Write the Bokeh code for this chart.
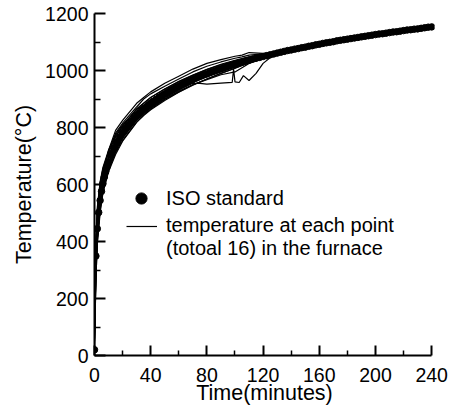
from bokeh.plotting import figure
from bokeh.models import Range1d, Legend, LegendItem, FixedTicker
from bokeh.embed import file_html
from bokeh.resources import INLINE

# ---- ISO standard curve ----
iso_t = [0, 1, 2, 3, 4, 5, 6, 7, 8, 9, 10, 12, 14, 16, 18, 20, 22, 24, 26, 28, 30,
         32, 34, 36, 38, 40, 42, 44, 46, 48, 50, 52, 54, 56, 58, 60, 62, 64, 66, 68, 70,
         72, 74, 76, 78, 80, 82, 84, 86, 88, 90, 92, 94, 96, 98, 100,
         102.5, 105, 107.5, 110, 112.5, 115, 117.5, 120, 122.5, 125, 127.5, 130,
         132.5, 135, 137.5, 140, 142.5, 145, 147.5, 150, 152.5, 155, 157.5, 160,
         162.5, 165, 167.5, 170, 172.5, 175, 177.5, 180, 182.5, 185, 187.5, 190,
         192.5, 195, 197.5, 200, 202.5, 205, 207.5, 210, 212.5, 215, 217.5, 220,
         222.5, 225, 227.5, 230, 232.5, 235, 237.5, 240]
iso_T = [20, 349, 445, 502, 544, 576, 603, 626, 645, 663, 678, 705, 728, 748, 766, 781, 796, 809, 820, 832, 842,
         851, 861, 869, 877, 885, 892, 899, 906, 912, 918, 924, 930, 935, 940, 945, 950, 955, 960, 964, 968,
         973, 977, 981, 985, 988, 992, 996, 999, 1003, 1006, 1009, 1013, 1016, 1019, 1022,
         1026, 1029, 1033, 1036, 1040, 1043, 1046, 1049, 1052, 1055, 1058, 1061,
         1064, 1067, 1070, 1072, 1075, 1077, 1080, 1082, 1085, 1087, 1090, 1092,
         1095, 1097, 1099, 1101, 1104, 1106, 1108, 1110, 1112, 1114, 1116, 1118,
         1120, 1122, 1124, 1126, 1128, 1129, 1131, 1133, 1135, 1136, 1138, 1140,
         1142, 1143, 1145, 1146, 1148, 1150, 1152, 1153]

# ---- furnace thermocouples (16 points) ----
t_line = [0, 1, 2, 4, 6, 10, 15, 20, 30, 35, 40, 50, 60, 70, 80, 90, 100, 105, 110, 120, 130, 160, 200, 240]
s01 = [60, 300, 430, 560, 640, 720, 790, 825, 885, 905, 925, 955, 980, 1005, 1025, 1038, 1050, 1054, 1063, 1060, 1064, 1093, 1127, 1154]
s03 = [150, 380, 480, 580, 630, 700, 765, 805, 865, 885, 905, 935, 962, 984, 1004, 1022, 1036, 1042, 1048, 1056, 1064, 1094, 1127, 1154]
s04 = [100, 330, 430, 530, 590, 665, 725, 770, 832, 855, 875, 910, 938, 962, 983, 1001, 1017, 1025, 1032, 1046, 1059, 1091, 1125, 1152]
s05 = [200, 400, 500, 600, 650, 710, 770, 805, 865, 885, 905, 935, 960, 983, 1003, 1020, 1034, 1041, 1047, 1056, 1065, 1093, 1126, 1153]
s06 = [80, 320, 420, 520, 580, 655, 718, 765, 828, 852, 873, 906, 934, 958, 978, 996, 1013, 1021, 1029, 1044, 1058, 1090, 1125, 1152]
s07 = [250, 420, 520, 610, 660, 720, 775, 810, 862, 878, 898, 925, 952, 975, 995, 1012, 1027, 1034, 1041, 1052, 1063, 1092, 1126, 1153]
s08 = [50, 290, 400, 510, 575, 650, 712, 755, 820, 845, 865, 898, 925, 950, 970, 990, 1008, 1018, 1027, 1043, 1057, 1090, 1124, 1152]
s09 = [120, 360, 460, 560, 615, 690, 750, 790, 850, 872, 892, 922, 948, 970, 990, 1008, 1024, 1031, 1038, 1050, 1062, 1092, 1126, 1153]
s10 = [180, 370, 470, 570, 625, 695, 755, 798, 856, 876, 896, 926, 951, 973, 993, 1010, 1025, 1032, 1039, 1051, 1062, 1092, 1126, 1153]
s11 = [90, 340, 440, 540, 600, 675, 735, 778, 840, 862, 882, 915, 942, 965, 985, 1003, 1019, 1027, 1034, 1047, 1060, 1091, 1125, 1153]
s12 = [60, 310, 415, 525, 588, 660, 722, 768, 830, 854, 874, 908, 936, 960, 981, 999, 1015, 1023, 1031, 1045, 1059, 1091, 1125, 1152]
s13 = [70, 300, 410, 515, 580, 655, 718, 762, 826, 850, 868, 900, 928, 950, 968, 985, 995, 1010, 1025, 1042, 1057, 1090, 1124, 1152]
s14 = [220, 410, 510, 605, 655, 715, 780, 815, 872, 900, 918, 945, 970, 995, 1015, 1030, 1043, 1048, 1054, 1058, 1066, 1094, 1127, 1154]
s15 = [140, 350, 455, 555, 610, 685, 745, 787, 846, 868, 888, 920, 947, 970, 990, 1008, 1023, 1030, 1037, 1050, 1061, 1092, 1126, 1153]
s16 = [30, 270, 390, 500, 570, 645, 705, 752, 818, 842, 862, 895, 924, 948, 970, 990, 1008, 1018, 1027, 1042, 1056, 1090, 1124, 1152]
# the thermocouple that dips between 75 and 125 minutes
dip_t = [0, 1, 2, 4, 6, 10, 15, 20, 30, 40, 50, 60, 70, 75, 80, 90, 98, 99, 100, 103, 106, 110, 115, 120, 125, 130, 160, 200, 240]
dip_T = [30, 260, 410, 530, 595, 665, 725, 765, 828, 870, 903, 932, 955, 955, 952, 956, 958, 1005, 960, 958, 982, 965, 990, 1025, 1045, 1060, 1092, 1125, 1152]

furnace_series = [s01, s03, s04, s05, s06, s07, s08, s09, s10, s11, s12, s13, s14, s15, s16]

x_ticks = [0, 40, 80, 120, 160, 200, 240]
x_minor = [20, 60, 100, 140, 180, 220]
y_ticks = [0, 200, 400, 600, 800, 1000, 1200]
y_minor = [100, 300, 500, 700, 900, 1100]

x_title = "Time(minutes)"
y_title = "Temperature(\u00b0C)"
legend_labels = ["ISO standard", "temperature at each point", "(totoal 16) in the furnace"]

FONT = "Liberation Sans"

p = figure(width=457, height=410, output_backend="svg", toolbar_location=None,
           x_range=Range1d(0, 242), y_range=Range1d(0, 1200),
           min_border_left=94, min_border_right=23, min_border_top=13, min_border_bottom=55)
p.xgrid.visible = False
p.ygrid.visible = False
p.outline_line_color = None
p.background_fill_color = "white"
p.border_fill_color = "white"

for s in furnace_series:
    p.line(t_line, s, line_color="black", line_width=1.2)
dip_r = p.line(dip_t, dip_T, line_color="black", line_width=1.2)
iso_r = p.scatter(iso_t, iso_T, size=6.5, fill_color="black", line_color="black")
blank_r = p.line(t_line, s01, line_alpha=0)

for ax, ticks, minor in ((p.xaxis[0], x_ticks, x_minor), (p.yaxis[0], y_ticks, y_minor)):
    ax.ticker = FixedTicker(ticks=ticks, minor_ticks=minor)
    ax.axis_line_width = 2
    ax.axis_line_color = "black"
    ax.major_tick_line_width = 2
    ax.minor_tick_line_width = 1.5
    ax.major_tick_out = 0
    ax.minor_tick_out = 0
    ax.major_label_text_font = FONT
    ax.major_label_text_font_size = "19.5px"
    ax.major_label_text_color = "black"
    ax.axis_label_text_font = FONT
    ax.axis_label_text_font_style = "normal"
    ax.axis_label_text_font_size = "21.5px"
    ax.axis_label_text_color = "black"

p.xaxis[0].bounds = (0, 240)
p.xaxis[0].major_tick_in = 10
p.xaxis[0].minor_tick_in = 5
p.xaxis[0].major_label_standoff = 12
p.xaxis[0].axis_label = x_title
p.xaxis[0].axis_label_standoff = -4

p.yaxis[0].major_tick_in = 11
p.yaxis[0].minor_tick_in = 6
p.yaxis[0].major_label_standoff = 6
p.yaxis[0].axis_label = y_title
p.yaxis[0].axis_label_standoff = 6

leg1 = Legend(items=[LegendItem(label=legend_labels[0], renderers=[iso_r])],
              location=(33, 143), glyph_width=28, glyph_height=28, label_standoff=11,
              padding=0, margin=0, spacing=0, border_line_alpha=0, background_fill_alpha=0,
              label_text_font=FONT, label_text_font_size="20px", label_text_color="black")
leg2 = Legend(items=[LegendItem(label=legend_labels[1], renderers=[dip_r]),
                     LegendItem(label=legend_labels[2], renderers=[blank_r])],
              location=(32, 95), glyph_width=31, glyph_height=20, label_standoff=9,
              padding=0, margin=0, spacing=-4, border_line_alpha=0, background_fill_alpha=0,
              label_text_font=FONT, label_text_font_size="20px", label_text_color="black",
              label_height=20)
p.add_layout(leg1)
p.add_layout(leg2)

open("out.html", "w").write(file_html(p, INLINE))
